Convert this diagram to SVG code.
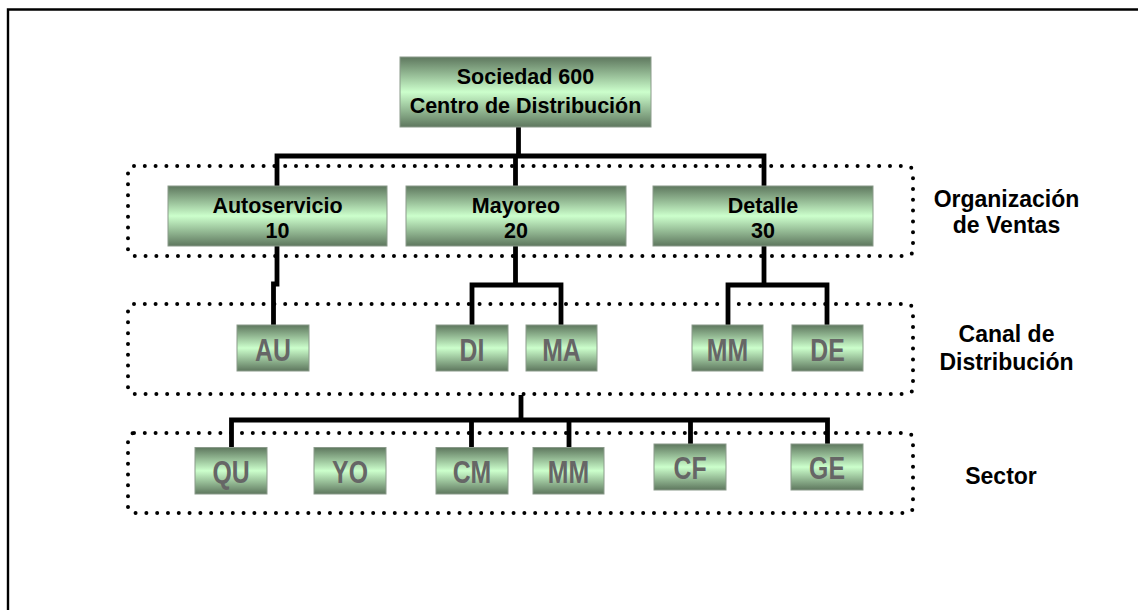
<svg xmlns="http://www.w3.org/2000/svg" width="1138" height="610" viewBox="0 0 1138 610">
  <style>
    .frame { fill: none; stroke: #000; stroke-width: 2.4; }
    .band { fill: none; stroke: #000; stroke-width: 4; stroke-dasharray: 0 10.8; stroke-linecap: round; }
    .wire { fill: none; stroke: #000; stroke-width: 4.8; stroke-linejoin: miter; stroke-linecap: butt; }
    .box { fill: url(#greenBar); stroke: #8a9a8a; stroke-width: 1; }
    .big { font-family: "Liberation Sans", Arial, sans-serif; font-weight: bold; font-size: 21.5px; fill: #000; text-anchor: middle; }
    .code { font-family: "Liberation Sans", Arial, sans-serif; font-weight: bold; font-size: 31px; fill: #666; text-anchor: middle; }
    .level { font-family: "Liberation Sans", Arial, sans-serif; font-weight: bold; font-size: 23px; fill: #000; text-anchor: middle; }
  </style>
  <defs>
    <linearGradient id="greenBar" x1="0" y1="0" x2="0" y2="1">
      <stop offset="0" stop-color="#5e775e"/>
      <stop offset="0.5" stop-color="#ccffcc"/>
      <stop offset="1" stop-color="#5e775e"/>
    </linearGradient>
  </defs>

  <rect width="1138" height="610" fill="#fff"/>
  <!-- page frame (top and left edges) -->
  <path class="frame" d="M8,610 V9.5 H1138"/>

  <!-- dotted level bands -->
  <g id="bands">
    <rect class="band" x="128" y="166" width="785" height="90" rx="6"/>
    <rect class="band" x="128" y="304" width="785" height="90" rx="6"/>
    <rect class="band" x="128" y="433" width="785" height="80" rx="6"/>
  </g>

  <!-- connectors -->
  <g id="connectors">
    <path class="wire" d="M518.5,127 V156"/>
    <path class="wire" d="M277,186 V156 H764 V186"/>
    <path class="wire" d="M515.5,156 V186"/>

    <path class="wire" d="M277,246 V284 H273.5 V325"/>
    <path class="wire" d="M515.5,246 V285"/>
    <path class="wire" d="M472,325 V285 H561 V325"/>
    <path class="wire" d="M764,246 V285"/>
    <path class="wire" d="M728,325 V285 H827 V325"/>

    <path class="wire" d="M521,395 V420"/>
    <path class="wire" d="M231.5,447 V420 H827.5 V444"/>
    <path class="wire" d="M471.5,420 V447"/>
    <path class="wire" d="M569,420 V448"/>
    <path class="wire" d="M690.5,420 V444"/>
  </g>

  <!-- company -->
  <g id="sociedad">
    <rect class="box" x="400" y="57" width="251" height="70"/>
    <text class="big" x="525.5" y="84">Sociedad 600</text>
    <text class="big" x="525.5" y="113">Centro de Distribución</text>
  </g>

  <!-- sales organizations -->
  <g id="org-autoservicio">
    <rect class="box" x="168" y="186" width="219" height="60"/>
    <text class="big" x="277.5" y="213">Autoservicio</text>
    <text class="big" x="277.5" y="238">10</text>
  </g>
  <g id="org-mayoreo">
    <rect class="box" x="406" y="186" width="220" height="60"/>
    <text class="big" x="516" y="213">Mayoreo</text>
    <text class="big" x="516" y="238">20</text>
  </g>
  <g id="org-detalle">
    <rect class="box" x="653" y="186" width="220" height="60"/>
    <text class="big" x="763" y="213">Detalle</text>
    <text class="big" x="763" y="238">30</text>
  </g>

  <!-- distribution channels -->
  <g id="canal-au">
    <rect class="box" x="237" y="325" width="72" height="46"/>
    <text class="code" transform="translate(273,360.5) scale(0.8,1)">AU</text>
  </g>
  <g id="canal-di">
    <rect class="box" x="436" y="325" width="72" height="46"/>
    <text class="code" transform="translate(472,360.5) scale(0.8,1)">DI</text>
  </g>
  <g id="canal-ma">
    <rect class="box" x="526" y="325" width="71" height="46"/>
    <text class="code" transform="translate(561.5,360.5) scale(0.8,1)">MA</text>
  </g>
  <g id="canal-mm">
    <rect class="box" x="692" y="325" width="71" height="46"/>
    <text class="code" transform="translate(727.5,360.5) scale(0.8,1)">MM</text>
  </g>
  <g id="canal-de">
    <rect class="box" x="792" y="325" width="71" height="46"/>
    <text class="code" transform="translate(827.5,360.5) scale(0.8,1)">DE</text>
  </g>

  <!-- sectors -->
  <g id="sector-qu">
    <rect class="box" x="195" y="447.5" width="72" height="46.5"/>
    <text class="code" transform="translate(231,483) scale(0.8,1)">QU</text>
  </g>
  <g id="sector-yo">
    <rect class="box" x="314" y="447.5" width="72" height="46.5"/>
    <text class="code" transform="translate(350,483) scale(0.8,1)">YO</text>
  </g>
  <g id="sector-cm">
    <rect class="box" x="436" y="447.5" width="72" height="46.5"/>
    <text class="code" transform="translate(472,483) scale(0.8,1)">CM</text>
  </g>
  <g id="sector-mm">
    <rect class="box" x="533" y="447.5" width="71" height="46.5"/>
    <text class="code" transform="translate(568.5,483) scale(0.8,1)">MM</text>
  </g>
  <g id="sector-cf">
    <rect class="box" x="654" y="444" width="72" height="46"/>
    <text class="code" transform="translate(690,479.3) scale(0.8,1)">CF</text>
  </g>
  <g id="sector-ge">
    <rect class="box" x="791" y="444" width="72" height="46"/>
    <text class="code" transform="translate(827,479.3) scale(0.8,1)">GE</text>
  </g>

  <!-- level captions -->
  <g id="level-labels">
    <text class="level" x="1006.5" y="207">Organización</text>
    <text class="level" x="1006.5" y="233">de Ventas</text>
    <text class="level" x="1006.5" y="342">Canal de</text>
    <text class="level" x="1006.5" y="370">Distribución</text>
    <text class="level" x="1001" y="484">Sector</text>
  </g>
</svg>
